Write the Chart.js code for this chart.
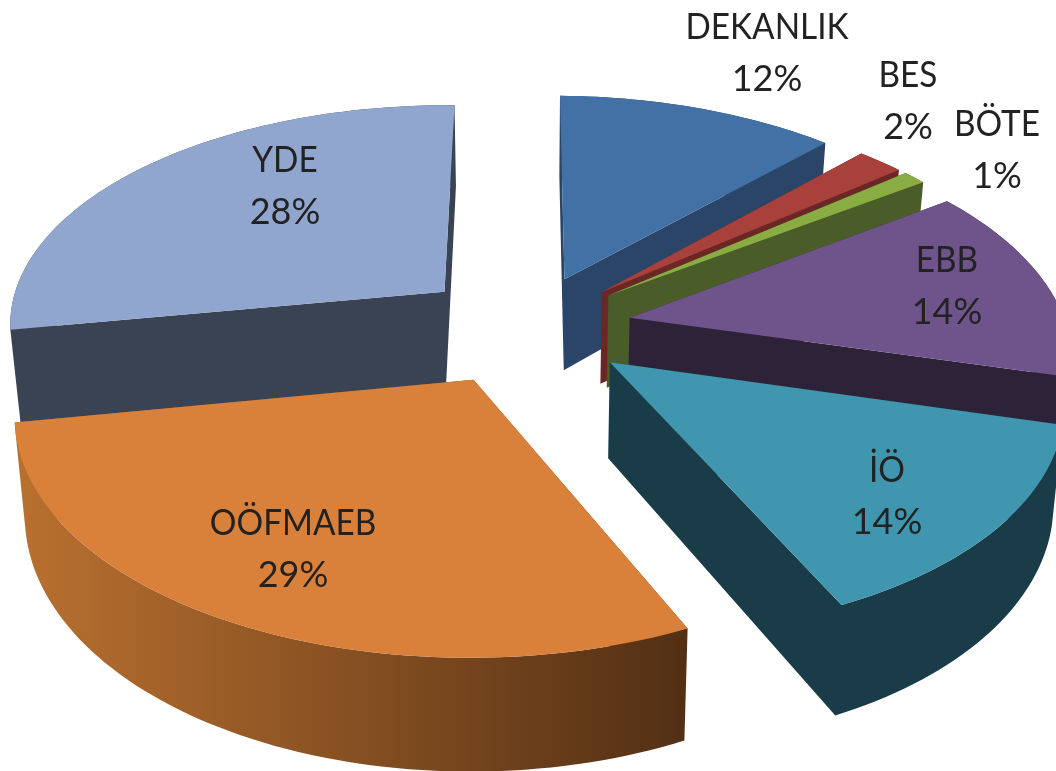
<!DOCTYPE html>
<html>
<head>
<meta charset="utf-8">
<style>
  body { margin: 0; background: #fff; }
  #wrap { width: 1056px; height: 771px; }
</style>
<script src="https://cdn.jsdelivr.net/npm/chart.js@4"></script>
</head>
<body>
<div id="wrap"><canvas id="pie" width="1056" height="771"></canvas></div>
<script>
const categories = ['DEKANLIK', 'BES', 'BÖTE', 'EBB', 'İÖ', 'OÖFMAEB', 'YDE']
const shares = [12, 2, 1, 14, 14, 29, 28]
const topColors = ['#4271a6', '#a8403c', '#8aad43', '#6f548c', '#3f96ae', '#d9803b', '#90a6cf']
const wallLeft = ['#2b4568', '#6b2725', '#4a5c28', '#2e2238', '#1a3c49', '#b9702f', '#3a4354']
const wallRight = ['#2b4568', '#6b2725', '#4a5c28', '#2e2238', '#1a3c49', '#522f14', '#3a4354']
const explodes = [0.24, 0.24, 0.24, 0.24, 0.24, 0.26, 0.25]
const labelSpots = [[767, 53], [908, 101], [997, 150], [947, 286], [887, 496], [293, 549], [285, 186]]

// camera for the tilted pie, fitted against the picture
const view = { cx: 527, cy: 327, sx: 438, ky: 222, d: 7.07, roll: 3, depth: 94, shrink: 0.02 }

function project(u, v) {
  const s = 1 / (1 - v / view.d)
  return { x: view.cx + u * view.sx * s, y: view.cy + v * view.ky * s + u * view.roll, s }
}
function drop(p) {
  return { x: view.cx + (p.x - view.cx) * (1 - view.shrink), y: p.y + view.depth * p.s }
}
function addPoly(ctx, pts) {
  // same winding for every strip, so strips in one path leave no seams
  let area = 0
  pts.forEach((p, i) => {
    const q = pts[(i + 1) % pts.length]
    area += p.x * q.y - q.x * p.y
  })
  const list = area < 0 ? [...pts].reverse() : pts
  list.forEach((p, i) => i ? ctx.lineTo(p.x, p.y) : ctx.moveTo(p.x, p.y))
  ctx.closePath()
}
function fillPolys(ctx, polys, fill) {
  ctx.beginPath()
  polys.forEach(pts => addPoly(ctx, pts))
  ctx.fillStyle = fill
  ctx.fill()
}

const pie3d = {
  id: 'pie3d',
  beforeDatasetDraw(chart, args) {
    const ctx = chart.ctx
    const arcs = chart.getDatasetMeta(args.index).data.map((arc, i) => {
      const mid = (arc.startAngle + arc.endAngle) / 2
      return { arc, i, mid, ox: Math.cos(mid) * explodes[i], oy: Math.sin(mid) * explodes[i] }
    })
    arcs.sort((a, b) => Math.sin(a.mid) - Math.sin(b.mid))

    arcs.forEach(({ arc, i, ox, oy }) => {
      const apex = project(ox, oy)
      const rim = []
      const n = Math.max(4, Math.ceil((arc.endAngle - arc.startAngle) * 40))
      for (let k = 0; k <= n; k++) {
        const a = arc.startAngle + (arc.endAngle - arc.startAngle) * k / n
        rim.push(project(ox + Math.cos(a), oy + Math.sin(a)))
      }
      const grad = ctx.createLinearGradient(20, 0, 690, 0)
      grad.addColorStop(0, wallLeft[i])
      grad.addColorStop(1, wallRight[i])

      const first = rim[0], last = rim[n]
      const strips = [
        [apex, first, drop(first), drop(apex)],
        [apex, last, drop(last), drop(apex)]
      ]
      for (let k = 0; k < n; k++) {
        strips.push([rim[k], rim[k + 1], drop(rim[k + 1]), drop(rim[k])])
      }
      fillPolys(ctx, strips, grad)
      fillPolys(ctx, [[apex, ...rim]], topColors[i])
    })
    return false
  },
  afterDraw(chart) {
    const ctx = chart.ctx
    ctx.fillStyle = '#222'
    ctx.textAlign = 'center'
    ctx.textBaseline = 'middle'
    categories.forEach((name, i) => {
      const [x, y] = labelSpots[i]
      ctx.save()
      ctx.font = '37px Lato'
      ctx.translate(x, y - 26)
      ctx.scale(0.9, 1)
      ctx.fillText(name, 0, 0)
      ctx.restore()
      ctx.font = '36px Lato'
      ctx.fillText(shares[i] + '%', x, y + 26)
    })
  }
}

new Chart(document.getElementById('pie'), {
  type: 'pie',
  data: {
    labels: categories,
    datasets: [{ data: shares, backgroundColor: topColors }]
  },
  options: {
    responsive: false,
    animation: false,
    plugins: { legend: { display: false }, tooltip: { enabled: false } }
  },
  plugins: [pie3d]
})
</script>
</body>
</html>
